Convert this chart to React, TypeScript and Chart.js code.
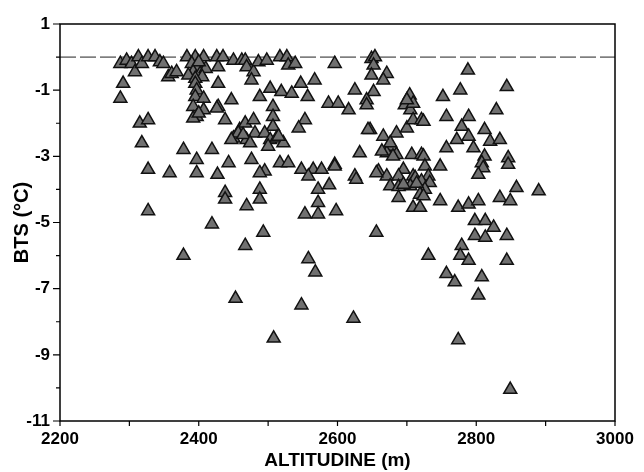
import React, { useEffect, useRef } from 'react';
import { Chart, registerables } from 'chart.js';

Chart.register(...registerables);

// Altitude (m) of each measurement point
const altitude = [
  2287, 2296, 2303, 2308, 2313, 2318, 2327, 2337, 2344, 2349, 2356, 2361, 2368, 2383, 2395, 2407,
  2390, 2399, 2392, 2402, 2410, 2385, 2400, 2405, 2395, 2428, 2426, 2435, 2450, 2462, 2467, 2469,
  2479, 2476, 2486, 2498, 2517, 2527, 2529, 2539, 2596, 2649, 2654, 2652, 2649, 2671, 2666, 2788,
  2291, 2287, 2395, 2397, 2395, 2407, 2392, 2407, 2397, 2392, 2428, 2447, 2428, 2503, 2488, 2519,
  2534, 2547, 2567, 2557, 2587, 2601, 2616, 2625, 2652, 2642, 2642, 2704, 2697, 2705, 2709, 2752,
  2777, 2844, 2507, 2400, 2700, 2426,
  2438, 2315, 2327, 2459, 2450, 2318, 2378, 2419, 2507, 2507, 2553, 2544, 2467, 2479, 2481, 2469,
  2457, 2447, 2464, 2474, 2495, 2503, 2512, 2522, 2500, 2515, 2647, 2666, 2685, 2700, 2709, 2721,
  2678, 2671, 2685, 2632, 2707, 2721, 2757, 2789, 2829, 2779, 2812, 2772, 2789, 2820, 2834, 2757,
  2796, 2724, 2644, 2676, 2664,
  2397, 2443, 2327, 2358, 2397, 2427, 2476, 2517, 2529, 2495, 2488, 2548, 2565, 2577, 2596, 2625,
  2659, 2671, 2695, 2709, 2724, 2726, 2748, 2812, 2808, 2810, 2846, 2846, 2803, 2731, 2558, 2572,
  2588, 2488, 2488, 2438, 2438, 2627, 2656, 2676, 2712, 2721, 2705, 2733, 2726, 2680, 2688, 2688,
  2695, 2714, 2596,
  2469, 2327, 2572, 2553, 2572, 2598, 2688, 2719, 2724, 2709, 2719, 2748, 2774, 2789, 2803, 2834,
  2849, 2858, 2890, 2798, 2813, 2419,
  2825, 2656, 2493, 2798, 2813, 2844, 2467, 2779, 2378, 2731, 2777, 2789, 2844, 2558, 2568, 2757,
  2769, 2808, 2803, 2453, 2548, 2623, 2508, 2774, 2849,
];

// Bottom temperature of snow (°C) for the same points, in the same order
const bts = [
  -0.2, -0.1, -0.2, -0.45, 0.0, -0.2, 0.0, 0.0, -0.15, -0.2, -0.6, -0.5, -0.45, 0.0, 0.0, 0.0,
  -0.2, -0.3, -0.45, -0.5, -0.35, -0.55, -0.15, -0.6, -0.65, -0.3, 0.0, 0.0, -0.1, -0.1, -0.1, -0.3,
  -0.45, -0.7, -0.15, -0.1, 0.0, 0.0, -0.25, -0.2, -0.2, -0.05, 0.0, -0.25, -0.55, -0.5, -0.7, -0.4,
  -0.8, -1.25, -0.8, -1.0, -1.2, -1.25, -1.5, -1.6, -1.8, -1.85, -0.8, -1.3, -1.5, -0.95, -1.2, -1.05,
  -1.1, -0.8, -0.7, -1.2, -1.4, -1.4, -1.6, -1.0, -1.05, -1.3, -1.45, -1.15, -1.45, -1.6, -1.4, -1.2,
  -1.0, -0.9, -1.5, -1.7, -1.3, -1.55,
  -1.9, -2.0, -1.9, -2.2, -2.45, -2.6, -2.8, -2.8, -1.8, -2.1, -1.9, -2.15, -2.0, -1.9, -2.3, -2.5,
  -2.3, -2.5, -2.35, -2.6, -2.3, -2.5, -2.45, -2.6, -2.7, -2.4, -2.2, -2.4, -2.3, -2.15, -1.9, -1.9,
  -2.7, -2.9, -2.95, -2.9, -2.95, -2.95, -1.8, -1.8, -1.6, -2.1, -2.2, -2.5, -2.4, -2.55, -2.5, -2.75,
  -2.75, -1.95, -2.2, -2.6, -2.85,
  -3.1, -3.2, -3.4, -3.5, -3.5, -3.55, -3.1, -3.2, -3.2, -3.45, -3.5, -3.4, -3.4, -3.4, -3.25, -3.6,
  -3.45, -3.6, -3.4, -3.6, -3.0, -3.3, -3.3, -3.0, -3.2, -3.35, -3.05, -3.25, -3.55, -3.6, -3.6, -4.0,
  -3.87, -4.0, -4.3, -4.1, -4.3, -3.7, -3.5, -3.9, -3.65, -3.75, -3.9, -3.8, -4.0, -3.0, -3.6, -3.92,
  -3.85, -3.82, -3.3,
  -4.5, -4.65, -4.4, -4.75, -4.75, -4.65, -4.25, -4.15, -4.2, -4.55, -4.55, -4.35, -4.55, -4.45, -4.35, -4.25,
  -4.35, -3.95, -4.05, -4.95, -4.95, -5.05,
  -5.15, -5.3, -5.3, -5.4, -5.45, -5.4, -5.7, -5.7, -6.0, -6.0, -6.0, -6.15, -6.15, -6.1, -6.5, -6.55,
  -6.8, -6.65, -7.2, -7.3, -7.5, -7.9, -8.5, -8.55, -10.05,
];

const xMin = 2200;
const xMax = 3000;
const xStep = 200;
const yMin = -11;
const yMax = 1;
const yStep = 2;
const xTitle = 'ALTITUDINE (m)';
const yTitle = 'BTS (°C)';

const framePlugin = {
  id: 'framePlugin',
  beforeDatasetsDraw(chart: any) {
    const { ctx, chartArea, scales } = chart;
    const y0 = scales.y.getPixelForValue(0);
    ctx.save();
    ctx.strokeStyle = '#222';
    ctx.lineWidth = 1;
    ctx.setLineDash([16, 4]);
    ctx.beginPath();
    ctx.moveTo(chartArea.left, y0);
    ctx.lineTo(chartArea.right, y0);
    ctx.stroke();
    ctx.restore();
  },
  afterDraw(chart: any) {
    const { ctx, chartArea, scales } = chart;
    const { left, right, top, bottom } = chartArea;
    ctx.save();
    ctx.strokeStyle = '#000';
    ctx.lineWidth = 1.5;
    ctx.strokeRect(left, top, right - left, bottom - top);
    ctx.lineWidth = 1.2;
    ctx.beginPath();
    for (let v = yMin; v <= yMax; v += 1) {
      const py = scales.y.getPixelForValue(v);
      const len = Math.abs(v % 2) === 1 ? 7 : 4;
      ctx.moveTo(left, py);
      ctx.lineTo(left - len, py);
    }
    for (let v = xMin; v <= xMax; v += 100) {
      const px = scales.x.getPixelForValue(v);
      ctx.moveTo(px, bottom);
      ctx.lineTo(px, bottom + 5);
    }
    ctx.stroke();
    ctx.restore();
  },
};

export default function App() {
  const canvasRef = useRef<HTMLCanvasElement | null>(null);

  useEffect(() => {
    const canvas = canvasRef.current;
    if (!canvas) return;
    Chart.defaults.font.family = "'Liberation Sans', Arial, sans-serif";
    const points = altitude.map((a, i) => ({ x: a, y: bts[i] }));
    const chart = new Chart(canvas, {
      type: 'scatter',
      data: {
        datasets: [
          {
            data: points,
            pointStyle: 'triangle',
            pointRadius: 7.5,
            pointBackgroundColor: '#707070',
            pointBorderColor: '#111',
            pointBorderWidth: 1.5,
          },
        ],
      },
      options: {
        animation: false,
        responsive: false,
        maintainAspectRatio: false,
        layout: { padding: { top: 24, right: 29, left: 0, bottom: 0 } },
        plugins: {
          legend: { display: false },
          tooltip: { enabled: false },
        },
        scales: {
          x: {
            type: 'linear',
            min: xMin,
            max: xMax,
            grid: { display: false, drawTicks: false },
            border: { display: false },
            ticks: {
              stepSize: xStep,
              padding: 8,
              color: '#000',
              font: { size: 17, weight: 'bold' },
              maxRotation: 0,
              callback: (v: any) => String(v),
            },
            title: {
              display: true,
              text: xTitle,
              color: '#000',
              font: { size: 19, weight: 'bold' },
              padding: { top: 0, bottom: 0 },
            },
            afterFit(scale: any) {
              scale.height = 51;
            },
          },
          y: {
            type: 'linear',
            min: yMin,
            max: yMax,
            grid: { display: false, drawTicks: false },
            border: { display: false },
            ticks: {
              stepSize: yStep,
              padding: 10,
              color: '#000',
              font: { size: 17, weight: 'bold' },
              callback: (v: any) => String(v),
            },
            title: {
              display: true,
              text: yTitle,
              color: '#000',
              font: { size: 20, weight: 'bold' },
              padding: { top: 10, bottom: 0 },
            },
            afterFit(scale: any) {
              scale.width = 60;
            },
          },
        },
      },
      plugins: [framePlugin],
    });
    return () => chart.destroy();
  }, []);

  return (
    <div style={{ position: 'absolute', left: 0, top: 0, width: 644, height: 472, background: '#fff' }}>
      <canvas ref={canvasRef} width={644} height={472} style={{ width: 644, height: 472, display: 'block' }} />
    </div>
  );
}
